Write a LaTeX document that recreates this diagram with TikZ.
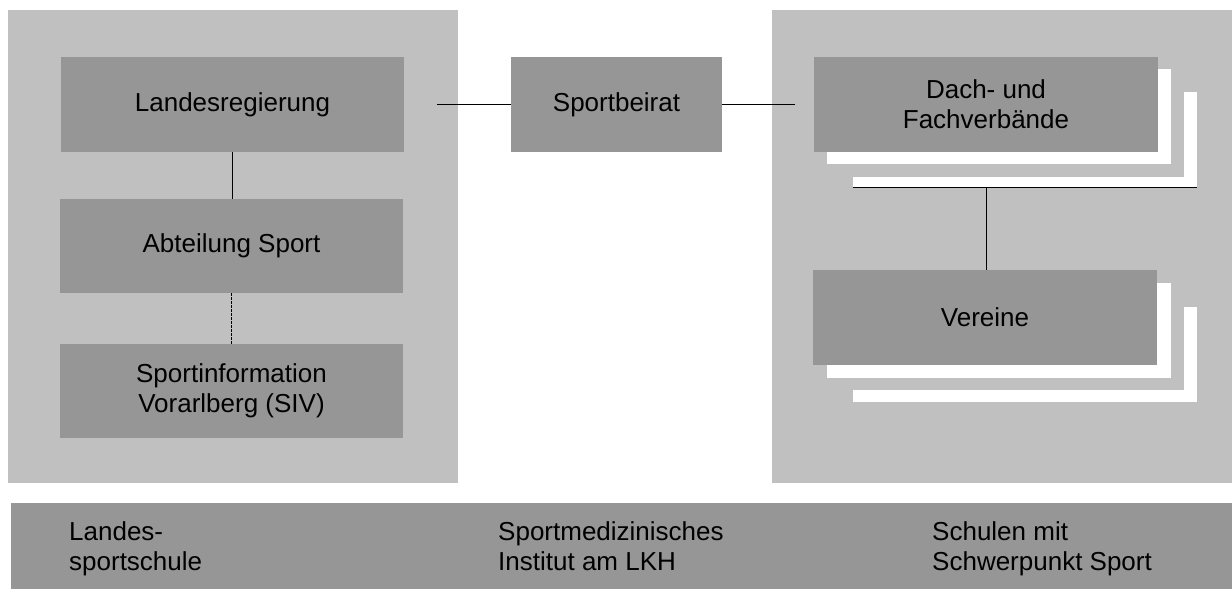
\documentclass[tikz,border=0pt]{standalone}
\usepackage{fontspec}
\setmainfont{Liberation Sans}
\definecolor{panelgray}{HTML}{C0C0C0}
\definecolor{boxgray}{HTML}{969696}
\tikzset{
  unitbox/.style={fill=boxgray, inner sep=0pt, outer sep=0pt, align=center,
    font=\fontsize{26}{30}\selectfont},
  conn/.style={draw=black, line width=1pt},
  dashconn/.style={draw=black, line width=1pt, dash pattern=on 2.6pt off 1.4pt},
  bartext/.style={inner sep=0pt, align=left, anchor=base west,
    font=\fontsize{26}{30}\selectfont},
}
\begin{document}
\begin{tikzpicture}[x=1pt,y=-1pt]
\useasboundingbox (0,0) rectangle (1232,589);
% panels
\fill[panelgray] (8,10) rectangle (458,483);
\fill[panelgray] (772,10) rectangle (1232,483);
\fill[boxgray] (11,503) rectangle (1232,589);
% left column
\node[unitbox, minimum width=343pt, minimum height=95pt] (lr) at (232.5,104.5) {Landesregierung};
\node[unitbox, minimum width=343pt, minimum height=94pt] (ab) at (231.5,246) {Abteilung Sport};
\node[unitbox, minimum width=343pt, minimum height=94pt] (siv) at (231.5,391) {Sportinformation\\Vorarlberg (SIV)};
% middle
\node[unitbox, minimum width=211pt, minimum height=95pt] (sb) at (616.5,104.5) {Sportbeirat};
% right stacks
\fill[white] (853,92) rectangle (1197,187);
\fill[panelgray] (814,57) rectangle (1184,177);
\fill[white] (827,69) rectangle (1171,164);
\node[unitbox, minimum width=344pt, minimum height=95pt] (dv) at (986,104.5) {Dach- und\\Fachverbände};
\fill[white] (853,307) rectangle (1197,402);
\fill[panelgray] (813,270) rectangle (1184,390);
\fill[white] (827,283) rectangle (1171,378);
\node[unitbox, minimum width=344pt, minimum height=95pt] (ve) at (985,317.5) {Vereine};
% coordinates
\coordinate (lend) at (437,104);
\coordinate (rend) at (795,104);
\coordinate (hl) at (853,187);
\coordinate (hr) at (1197,187);
\coordinate (hm) at (986,187);
% connectors
\draw[conn] (lend) -- (lend -| sb.west);
\draw[conn] (sb.east |- rend) -- (rend);
\draw[conn] (lr.south) -- (lr.south |- ab.north);
\draw[dashconn] (ab.south) -- (ab.south |- siv.north);
\draw[conn] (hl) -- (hr);
\draw[conn] (hm) -- (hm |- ve.north);
% bottom bar texts (base = baseline of the last line)
\node[bartext] (lss) at (69,570) {Landes-\\sportschule};
\node[bartext] (smi) at (498,570) {Sportmedizinisches\\Institut am LKH};
\node[bartext] (sms) at (932,570) {Schulen mit\\Schwerpunkt Sport};
\end{tikzpicture}
\end{document}
